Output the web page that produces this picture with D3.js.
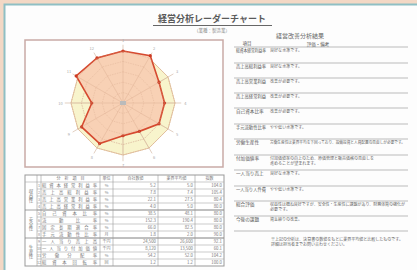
<!DOCTYPE html>
<html><head><meta charset="utf-8">
<script src="https://cdn.jsdelivr.net/npm/d3@7/dist/d3.min.js"></script>
<style>
html,body{margin:0;padding:0;background:#f3d8c5;}
svg{display:block;font-family:"Noto Sans CJK JP","Noto Sans",sans-serif;}
</style></head><body>
<svg id="c" width="417" height="270"></svg>
<script>
// ---- data ----
const axes = ["1","2","3","4","5","6","7","8","9","10","11","12"];
const itemNames = ["総資本経常利益率","売上高総利益率","売上高営業利益率","売上高経常利益率",
  "自己資本比率","流動比率","固定長期適合率","手元流動性比率",
  "一人当り売上高","一人当り付加価値","労働分配率","総資本回転率"];
const units = ["%","%","%","%","%","%","%","月","千円","千円","%","回"];
const companyValues = [100, 105, 80, 80, 80, 63, 63, 90, 92, 60, 104, 100];
const standardValues = [100,100,100,100,100,100,100,100,100,100,100,100];
const tableCompany = ["5.2","7.8","22.1","4.0","38.5","152.3","66.0","1.8","24,500","8,120","54.2","1.2"];
const tableStandard = ["5.0","7.4","27.5","5.0","48.1","190.4","82.5","2.0","26,600","13,500","52.0","1.2"];
const tableScore = ["104.0","105.4","80.4","80.0","80.0","80.0","80.0","90.0","92.1","60.1","104.2","100.0"];
const groups = ["収益性","安全性","生産性"];
const groupSizes = [4,4,4];
const gridLevels = [20,40,60,80,100];
const rowLabels = ["総資本経常利益率","売上高総利益率","売上高営業利益","売上高経常利益","自己資本比率",
  "手元流動性比率","労働生産性","付加価値率","一人当り売上","一人当り人件費","総合評価","今後の課題"];
const rowTexts = [["良好な水準です。"],["良好な水準です。"],["改善が必要です。"],["改善が必要です。"],
  ["改善が必要です。"],["やや低い水準です。"],
  ["労働生産性は業界平均を下回っており、設備投資と人員配置の見直しが必要です。"],
  ["付加価値率の向上のため、原価管理と販売価格の見直しを","進めることが望まれます。"],
  ["良好な水準です。"],["やや低い水準です。"],
  ["収益性は概ね良好ですが、安全性・生産性に課題があり、財務体質の強化が","必要です。"],
  ["資金繰りの改善。"]];
const noteLines = ["※上記の分析は、決算書の数値をもとに業界平均値と比較したものです。",
  "詳細は担当者までお問い合わせください。"];

const svg = d3.select("#c");
// paper
svg.append("rect").attr("x",4.5).attr("y",4.5).attr("width",420).attr("height",270)
  .attr("fill","#fdfdfd").attr("stroke","#8fbfc4").attr("stroke-width",2);

// title
svg.append("text").attr("x",212).attr("y",22).attr("text-anchor","middle")
  .attr("font-size",9).attr("font-weight","bold").attr("fill","#5a5a5a").text("経営分析レーダーチャート");
svg.append("line").attr("x1",153).attr("x2",272).attr("y1",25.5).attr("y2",25.5).attr("stroke","#666").attr("stroke-width",1);
svg.append("text").attr("x",212).attr("y",31.5).attr("text-anchor","middle")
  .attr("font-size",4.5).attr("fill","#888").text("（業種：製造業）");

// radar frame
svg.append("rect").attr("x",25).attr("y",40).attr("width",198).attr("height",127)
  .attr("fill","#fff").attr("stroke","#c9aaa6").attr("stroke-width",1.5);

const cx = 123, cy = 103;
const r = d3.scaleLinear().domain([0,100]).range([0,52]);
const ang = d3.scalePoint().domain(axes).range([0, 2*Math.PI*(axes.length-1)/axes.length]);
const pt = (a,v)=>[cx + r(v)*Math.sin(ang(a)), cy - r(v)*Math.cos(ang(a))];
const line = d3.line();
const g = svg.append("g");

// standard (yellow) area
g.append("path").attr("d", line(axes.map((a,i)=>pt(a,standardValues[i])).concat([pt(axes[0],standardValues[0])])))
  .attr("fill","#f8f4cc").attr("stroke","#e8c8a0").attr("stroke-width",1);
// grid
gridLevels.forEach(l=>{
  g.append("path").attr("d", line(axes.map(a=>pt(a,l)).concat([pt(axes[0],l)])))
    .attr("fill","none").attr("stroke","#dcc0a8").attr("stroke-width",0.6).attr("stroke-dasharray","1.5,1");
});
axes.forEach(a=>{
  const [x1,y1]=pt(a,0),[x2,y2]=pt(a,112);
  g.append("line").attr("x1",x1).attr("y1",y1).attr("x2",x2).attr("y2",y2)
    .attr("stroke","#d6bca8").attr("stroke-width",0.7);
  const [lx,ly]=pt(a,120);
  g.append("text").attr("x",lx).attr("y",ly+1.5).attr("text-anchor","middle")
    .attr("font-size",4).attr("fill","#aaa").text(a);
});
// company polygon
const cp = axes.map((a,i)=>pt(a,companyValues[i]));
g.append("path").attr("d", line(cp.concat([cp[0]])))
  .attr("fill","#f7cdb2").attr("fill-opacity",0.9).attr("stroke","#d64a30").attr("stroke-width",1.6);
g.selectAll("circle.v").data(cp).join("circle").attr("cx",d=>d[0]).attr("cy",d=>d[1]).attr("r",1.6).attr("fill","#cc3a22");
// redraw grid faintly over fill
gridLevels.forEach(l=>{
  g.append("path").attr("d", line(axes.map(a=>pt(a,l)).concat([pt(axes[0],l)])))
    .attr("fill","none").attr("stroke","#d8a888").attr("stroke-width",0.5).attr("stroke-dasharray","1.5,1").attr("opacity",0.6);
});
axes.forEach(a=>{
  const [x2,y2]=pt(a,100);
  g.append("line").attr("x1",cx).attr("y1",cy).attr("x2",x2).attr("y2",y2)
    .attr("stroke","#d8a888").attr("stroke-width",0.5).attr("opacity",0.6);
});
g.append("rect").attr("x",cx-3).attr("y",cy-2).attr("width",6).attr("height",4).attr("fill","#bbb");

// table
const tx = [25,37,41,100,113,158,195,224];
const ty0 = 175, rh = 7;
const tg = svg.append("g");
const nRows = itemNames.length;
const y = d3.scaleLinear().domain([0,nRows+1]).range([ty0, ty0+rh*(nRows+1)]);
tg.append("rect").attr("x",tx[0]).attr("y",ty0).attr("width",tx[7]-tx[0]).attr("height",rh*(nRows+1))
  .attr("fill","#fff").attr("stroke","#999").attr("stroke-width",1);
for(let i=1;i<=nRows;i++){
  tg.append("line").attr("x1",i===1?tx[0]:tx[1]).attr("x2",tx[7]).attr("y1",y(i)).attr("y2",y(i)).attr("stroke","#aaa").attr("stroke-width",0.6);
}
let acc=0;
groupSizes.forEach((s,gi)=>{
  acc+=s;
  if(acc<nRows) tg.append("line").attr("x1",tx[0]).attr("x2",tx[7]).attr("y1",y(acc+1)).attr("y2",y(acc+1)).attr("stroke","#888").attr("stroke-width",0.8);
  const mid = (y(acc+1-s)+y(acc+1))/2;
  tg.append("text").attr("x",31).attr("y",mid).attr("font-size",4.5).attr("fill","#777")
    .attr("text-anchor","middle").attr("writing-mode","tb").text(groups[gi]);
});
tx.slice(1,7).forEach(x=>tg.append("line").attr("x1",x).attr("x2",x).attr("y1",ty0).attr("y2",y(nRows+1)).attr("stroke","#999").attr("stroke-width",0.6));
const hdr = ["","","分　析　項　目","単位","自社数値","業界平均値","指数"];
hdr.forEach((h,i)=>{ if(h) tg.append("text").attr("x",(tx[i]+tx[i+1])/2).attr("y",ty0+5).attr("text-anchor","middle").attr("font-size",4).attr("fill","#777").text(h);});
itemNames.forEach((n,i)=>{
  const yy = y(i+1)+5;
  tg.append("text").attr("x",39).attr("y",yy).attr("text-anchor","middle").attr("font-size",3.8).attr("fill","#888").text(i+1);
  tg.append("text").attr("x",42).attr("y",yy).attr("font-size",4.3).attr("fill","#777").attr("textLength",55).attr("lengthAdjust","spacing").text(n);
  tg.append("text").attr("x",106.5).attr("y",yy).attr("text-anchor","middle").attr("font-size",4).attr("fill","#888").text(units[i]);
  tg.append("text").attr("x",156).attr("y",yy).attr("text-anchor","end").attr("font-size",4.3).attr("fill","#777").text(tableCompany[i]);
  tg.append("text").attr("x",193).attr("y",yy).attr("text-anchor","end").attr("font-size",4.3).attr("fill","#777").text(tableStandard[i]);
  tg.append("text").attr("x",222).attr("y",yy).attr("text-anchor","end").attr("font-size",4.3).attr("fill","#777").text(tableScore[i]);
});

// right panel
const rg = svg.append("g");
rg.append("text").attr("x",300).attr("y",38).attr("text-anchor","middle").attr("font-size",6).attr("fill","#666").text("経営改善分析結果");
rg.append("text").attr("x",247).attr("y",44.5).attr("text-anchor","middle").attr("font-size",4.5).attr("fill","#555").text("項目");
rg.append("text").attr("x",318).attr("y",46).attr("text-anchor","middle").attr("font-size",4.5).attr("fill","#555").text("評価・備考");
const lineYs = [47,63,78,93,108,124,139,155,170,186,201,216,231];
lineYs.forEach(ly=>rg.append("line").attr("x1",234).attr("x2",408).attr("y1",ly).attr("y2",ly).attr("stroke","#aaa").attr("stroke-width",0.8));
rowLabels.forEach((t,i)=>{
  const ly = lineYs[i];
  rg.append("text").attr("x",236).attr("y",ly+5).attr("font-size",4.6).attr("fill","#555")
    .attr("textLength",Math.min(30,t.length*4.6)).attr("lengthAdjust","spacingAndGlyphs").text(t);
  rowTexts[i].forEach((s,k)=>{
    rg.append("text").attr("x",270).attr("y",ly+5+k*4.5).attr("font-size",4).attr("fill","#666")
      .attr("textLength",Math.min(135,s.length*4)).attr("lengthAdjust","spacingAndGlyphs").text(s);
  });
});
noteLines.forEach((s,k)=>rg.append("text").attr("x",271).attr("y",240.5+k*5).attr("font-size",4).attr("fill","#666")
  .attr("textLength",Math.min(135,s.length*4)).attr("lengthAdjust","spacingAndGlyphs").text(s));
</script>
</body></html>
